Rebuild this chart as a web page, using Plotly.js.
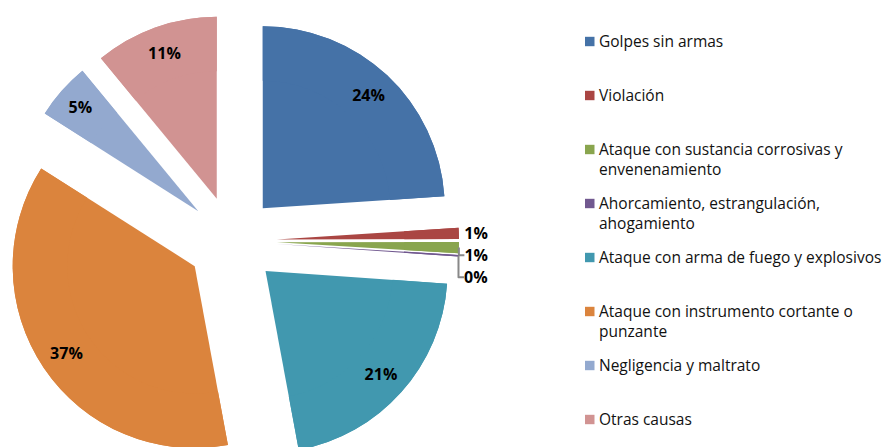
<!DOCTYPE html>
<html>
<head>
<meta charset="utf-8">
<script src="https://cdn.plot.ly/plotly-3.0.1.min.js"></script>
<style>
html, body { margin: 0; padding: 0; overflow: hidden; background: #fff; }
#chart { width: 884px; height: 470px; }
</style>
</head>
<body>
<div id="chart"></div>
<script>
// Data (percentages)
var categories = [
  "Golpes sin armas",
  "Violación",
  "Ataque con sustancia corrosivas y<br>envenenamiento",
  "Ahorcamiento, estrangulación,<br>ahogamiento",
  "Ataque con arma de fuego y explosivos",
  "Ataque con instrumento cortante o<br>punzante",
  "Negligencia y maltrato",
  "Otras causas"
];
var values = [24, 1, 1, 0.15, 21, 37, 5, 11];
var colors = ["#4572A7", "#AA4643", "#89A54E", "#71588F", "#4198AF", "#DB843D", "#93A9CF", "#D19392"];

var W = 884, H = 470, MT = 14, MB = 2;
var plotH = H - MT - MB;
function px(x) { return x / W; }
function py(y) { return 1 - (y - MT) / plotH; }

var textPos = values.map(function (v) { return v < 3 ? "outside" : "inside"; });
var labelFont = { family: "Open Sans, sans-serif", size: 16, color: "#000", weight: "bold" };
// outside label font colour also sets the leader-line colour; keep text black via span
var outFont = { family: "Open Sans, sans-serif", size: 16, color: "#888", weight: "bold" };
var dom = { x: [0.00566, 0.5192], y: [0, 1] };

// full pie (slices)
var base = {
  type: "pie",
  labels: categories,
  values: values,
  sort: false,
  direction: "clockwise",
  rotation: 0,
  pull: 0.247,
  marker: { colors: colors, line: { width: 0 } },
  textinfo: "none",
  showlegend: false,
  domain: dom,
  hoverinfo: "label+percent"
};
// same slices as a ring, carrying the percentage labels toward the rim
var labelsTrace = {
  type: "pie",
  labels: categories,
  values: values,
  sort: false,
  direction: "clockwise",
  rotation: 0,
  pull: 0.247,
  hole: 0.7,
  marker: { colors: colors, line: { width: 0 } },
  texttemplate: "<span style='color:#000'>%{percent:.0%}</span>",
  textposition: textPos,
  insidetextorientation: "horizontal",
  textfont: labelFont,
  insidetextfont: labelFont,
  outsidetextfont: outFont,
  showlegend: false,
  domain: dom,
  hoverinfo: "label+percent"
};

// legend (drawn as shapes + annotations, evenly spaced as in the original)
var legendTop = 41.5, legendStep = 54;
var shapes = [], annotations = [];
categories.forEach(function (c, i) {
  var cy = legendTop + i * legendStep;
  shapes.push({
    type: "rect", xref: "paper", yref: "paper",
    x0: px(585), x1: px(594.5), y0: py(cy - 4.7), y1: py(cy + 4.7),
    fillcolor: colors[i], line: { width: 0 }
  });
  annotations.push({
    xref: "paper", yref: "paper",
    x: px(598), y: py(cy - 12.5),
    xanchor: "left", yanchor: "top", align: "left",
    showarrow: false, borderpad: 0,
    text: c,
    font: { family: "Open Sans, sans-serif", size: 15.5, color: "#111" }
  });
});

var layout = {
  width: W,
  height: H,
  margin: { l: 0, r: 0, t: MT, b: MB },
  paper_bgcolor: "#fff",
  showlegend: false,
  shapes: shapes,
  annotations: annotations
};

Plotly.newPlot("chart", [base, labelsTrace], layout, { displayModeBar: false, staticPlot: true });
</script>
</body>
</html>
